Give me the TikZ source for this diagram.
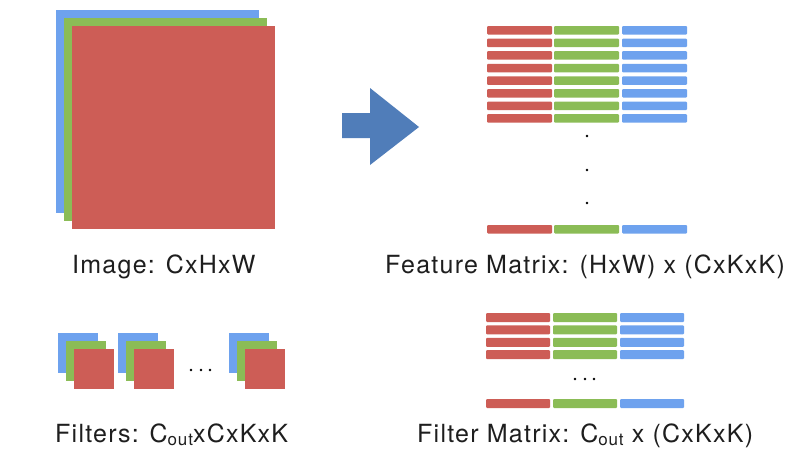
\documentclass[tikz,border=0pt]{standalone}
\usepackage{fontspec}
\setmainfont{TeX Gyre Heros}[LetterSpace=5]
\definecolor{cred}{RGB}{205,93,86}
\definecolor{cgreen}{RGB}{139,188,86}
\definecolor{cblue}{RGB}{110,162,238}
\definecolor{carrow}{RGB}{80,125,185}
\definecolor{ctext}{RGB}{30,30,30}
\newcommand{\subout}{\raisebox{-3.5pt}{\fontsize{17}{17}\selectfont out}}
\begin{document}
\begin{tikzpicture}[x=1pt,y=-1pt,
  lbl/.style={anchor=base west,inner sep=0pt,text=ctext,font=\fontsize{25}{30}\selectfont},
  bar/.style={rounded corners=1pt,draw=none},
  dotc/.style={fill=black,draw=none}]
\useasboundingbox[fill=white] (0,0) rectangle (799,474);
% big image stack
\fill[cblue] (56,10) rectangle (259,213);
\fill[cgreen] (64,18) rectangle (267,221);
\fill[cred] (72,26) rectangle (275,229);
% arrow
\fill[carrow] (342,113) -- (370,113) -- (370,88) -- (419,127) -- (370,165) -- (370,138) -- (342,138) -- cycle;
% feature matrix
\foreach \i in {0,...,7}{
  \pgfmathsetmacro{\t}{26+\i*12.6}
  \fill[bar,cred] (487,\t) rectangle (552,\t+8.5);
  \fill[bar,cgreen] (554,\t) rectangle (619,\t+8.5);
  \fill[bar,cblue] (622,\t) rectangle (687,\t+8.5);
}
\foreach \y in {136,170,203} \fill[dotc] (587,\y) circle (1.3);
\fill[bar,cred] (487,225) rectangle (552,233.5);
\fill[bar,cgreen] (554,225) rectangle (619,233.5);
\fill[bar,cblue] (622,225) rectangle (687,233.5);
% small filters
\foreach \dx in {0,60,171}{
  \fill[cblue] (58+\dx,333) rectangle (98+\dx,373);
  \fill[cgreen] (66+\dx,341) rectangle (106+\dx,381);
  \fill[cred] (74+\dx,349) rectangle (114+\dx,389);
}
\foreach \x in {191,201,210} \fill[dotc] (\x,370) circle (1.3);
% filter matrix
\foreach \i in {0,...,3}{
  \pgfmathsetmacro{\t}{313+\i*12.4}
  \fill[bar,cred] (486,\t) rectangle (550,\t+9);
  \fill[bar,cgreen] (553,\t) rectangle (617,\t+9);
  \fill[bar,cblue] (620,\t) rectangle (684,\t+9);
}
\foreach \x in {575,585,594} \fill[dotc] (\x,379) circle (1.3);
\fill[bar,cred] (486,399) rectangle (550,408);
\fill[bar,cgreen] (553,399) rectangle (617,408);
\fill[bar,cblue] (620,399) rectangle (684,408);
% labels
\node[lbl] (imglbl) at (72,273) {Image: CxHxW};
\node[lbl] (featlbl) at (385,273) {Feature Matrix: (HxW) x (CxKxK)};
\node[lbl] (filtlbl) at (55,442) {Filters: C\subout xCxKxK};
\node[lbl] (fmlbl) at (417,442) {Filter Matrix: C\subout\ x (CxKxK)};
\end{tikzpicture}
\end{document}
